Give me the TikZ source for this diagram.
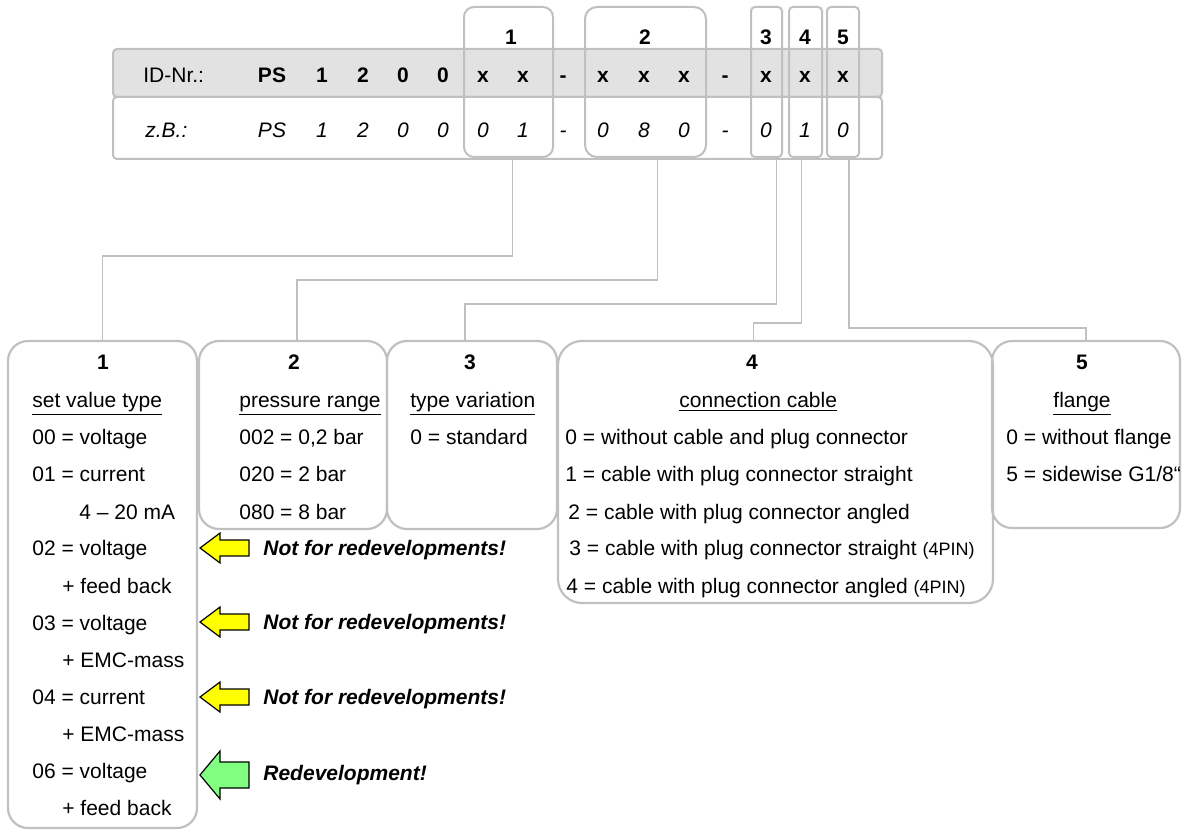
\documentclass[tikz,border=0pt]{standalone}
\usepackage{fontspec}
\setmainfont{Liberation Sans}
\usetikzlibrary{positioning,fit}
\definecolor{framegray}{RGB}{192,192,192}
\definecolor{rowgray}{RGB}{226,226,226}
\definecolor{warnyellow}{RGB}{255,255,0}
\definecolor{okgreen}{RGB}{128,255,128}

\begin{document}
\begin{tikzpicture}[
  x=0.5pt, y=-0.5pt,
  every node/.style={font=\fontsize{10.5}{12}\selectfont, inner sep=0pt},
  txt/.style={anchor=west, text height=7.5pt, text depth=0pt},
  ctr/.style={text height=7.5pt, text depth=0pt},
  hd/.style={ctr, font=\fontsize{10.5}{12}\selectfont\bfseries},
  ex/.style={ctr, font=\fontsize{10.5}{12}\selectfont\itshape},
  warn/.style={txt, font=\fontsize{10.5}{12}\selectfont\bfseries\itshape},
  rowbox/.style={draw=framegray, line width=1pt, rounded corners=2pt},
  grpbox/.style={draw=framegray, line width=1pt, rounded corners=#1},
  keybox/.style={draw=framegray, line width=1.1pt, rounded corners=#1},
  conn/.style={draw=framegray, line width=0.8pt},
  blockarr/.style={draw=black, line width=0.6pt, line join=miter},
]
\useasboundingbox (0,0) rectangle (1187,833);

% ID number rows
\node[rowbox, fill=rowgray, fit={(113,49) (882,97)}] (idrow) {};
\node[rowbox, fit={(113,97) (882,159)}] (exrow) {};
\node[txt] (idlbl) at (143,75) {ID-Nr.:};
\node[txt, font=\fontsize{10.5}{12}\selectfont\itshape] (exlbl) at (145,130) {z.B.:};
\foreach \xx/\a/\b in {272/PS/PS, 322/1/1, 363/2/2, 403/0/0, 443/0/0,
    483/x/0, 523/x/1, 563/-/-, 603/x/0, 644/x/8, 684/x/0, 725/-/-,
    766/x/0, 805/x/1, 843/x/0} {
  \node[hd] (id\xx) at (\xx,75) {\a};
  \node[ex] (zb\xx) at (\xx,130) {\b};
}

% groups
\node[grpbox=5pt, fit={(464,7) (553,157)}] (g1) {};
\node[grpbox=6pt, fit={(585,7) (706,157)}] (g2) {};
\node[grpbox=2pt, fit={(751,7) (782,157)}] (g3) {};
\node[grpbox=2pt, fit={(789,7) (822,157)}] (g4) {};
\node[grpbox=2pt, fit={(827,7) (859,157)}] (g5) {};
\foreach \xx/\n in {511/1, 645/2, 766/3, 805/4, 843/5}
  \node[hd] (gl\n) at (\xx,37) {\n};

% key boxes
\node[keybox=10pt, fit={(8,341) (197,828)}] (b1) {};
\node[keybox=10pt, fit={(199,341) (387,529)}] (b2) {};
\node[keybox=10pt, fit={(387,341) (557,529)}] (b3) {};
\node[keybox=12pt, fit={(558,341) (993,603)}] (b4) {};
\node[keybox=10pt, fit={(992,341) (1180,528)}] (b5) {};

\draw[conn] ([xshift=2pt]g1.south) -- ++(0,98) -| (b1.north);
\draw[conn] ([xshift=6pt]g2.south) -- ++(0,122) -| ([xshift=2pt]b2.north);
\draw[conn] ([xshift=5pt]g3.south) -- ++(0,146) -| ([xshift=-3.5pt]b3.north);
\draw[conn] ([xshift=-2pt]g4.south) -- ++(0,165) -| ([xshift=-11pt]b4.north);
\draw[conn] ([xshift=3pt]g5.south) -- ++(0,170) -| (b5.north);

% 1
\node[hd] (h1) at (103,362) {1};
\node[txt] (t1) at (32,400) {\underline{set value type}};
\node[txt] (v100) at (32,437) {00 = voltage};
\node[txt] (v101) at (32,474) {01 = current};
\node[txt] (v101b) at (79,512) {4 -- 20 mA};
\node[txt] (v102) at (32,548) {02 = voltage};
\node[txt] (v102b) at (62,586) {+ feed back};
\node[txt] (v103) at (32,623) {03 = voltage};
\node[txt] (v103b) at (62,660) {+ EMC-mass};
\node[txt] (v104) at (32,697) {04 = current};
\node[txt] (v104b) at (62,734) {+ EMC-mass};
\node[txt] (v106) at (32,771) {06 = voltage};
\node[txt] (v106b) at (62,808) {+ feed back};

% 2
\node[hd] (h2) at (294,362) {2};
\node[txt] (t2) at (239,400) {\underline{pressure range}};
\node[txt] (v2a) at (239,437) {002 = 0,2 bar};
\node[txt] (v2b) at (239,474) {020 = 2 bar};
\node[txt] (v2c) at (239,512) {080 = 8 bar};

% 3
\node[hd] (h3) at (470,362) {3};
\node[txt] (t3) at (410,400) {\underline{type variation}};
\node[txt] (v3a) at (410,437) {0 = standard};

% 4
\node[hd] (h4) at (752,362) {4};
\node[txt] (t4) at (679,400) {\underline{connection cable}};
\node[txt] (v4a) at (565,437) {0 = without cable and plug connector};
\node[txt] (v4b) at (565,474) {1 = cable with plug connector straight};
\node[txt] (v4c) at (568,512) {2 = cable with plug connector angled};
\node[txt] (v4d) at (569,548) {3 = cable with plug connector straight {\fontsize{9}{10}\selectfont(4PIN)}};
\node[txt] (v4e) at (566,586) {4 = cable with plug connector angled {\fontsize{9}{10}\selectfont(4PIN)}};

% 5
\node[hd] (h5) at (1082,362) {5};
\node[txt] (t5) at (1053,400) {\underline{flange}};
\node[txt] (v5a) at (1006,437) {0 = without flange};
\node[txt] (v5b) at (1006,474) {5 = sidewise G1/8“};

% notes
\foreach \yy/\hh/\ss/\col in {548/15/8/warnyellow, 622/15/8/warnyellow,
    697/15/8/warnyellow, 775/24/13/okgreen}
  \draw[blockarr, fill=\col] (200,\yy) -- (220,{\yy-\hh}) -- (220,{\yy-\ss})
    -- (249,{\yy-\ss}) -- (249,{\yy+\ss}) -- (220,{\yy+\ss}) -- (220,{\yy+\hh}) -- cycle;
\node[warn] (n02) at (263,548) {Not for redevelopments!};
\node[warn] (n03) at (263,622) {Not for redevelopments!};
\node[warn] (n04) at (263,697) {Not for redevelopments!};
\node[warn] (n06) at (263,773) {Redevelopment!};
\end{tikzpicture}
\end{document}
